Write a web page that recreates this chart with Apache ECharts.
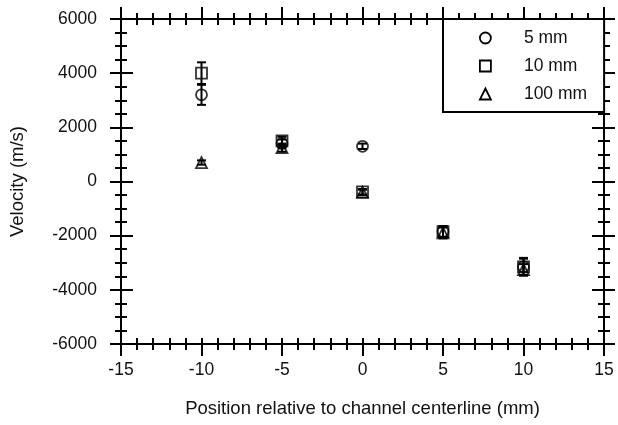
<!DOCTYPE html>
<html>
<head>
<meta charset="utf-8">
<script src="https://cdn.jsdelivr.net/npm/echarts@6/dist/echarts.min.js"></script>
<style>
  html, body { margin: 0; padding: 0; background: #fff; }
  #chart { width: 618px; height: 425px; }
</style>
</head>
<body>
<div id="chart"></div>
<script>
// Velocity profiles across the channel, three channel widths
const positions = [-10, -5, 0, 5, 10];

const seriesNames = ['5 mm', '10 mm', '100 mm'];
const seriesSymbols = ['circle', 'rect', 'triangle'];

const vel5mm   = [3200, 1400, 1300, -1850, -3150];
const err5mm   = [370, 150, 100, 200, 300];
const vel10mm  = [4000, 1500, -380, -1850, -3150];
const err10mm  = [400, 150, 100, 200, 330];
const vel100mm = [700, 1250, -400, -1900, -3250];
const err100mm = [80, 150, 100, 200, 200];

const xTicks = { min: -15, max: 15, interval: 5 };
const yTicks = { min: -6000, max: 6000, interval: 2000 };

const FONT = 'Liberation Sans';
const FONT_SIZE = 17.5;
const NAME_SIZE = 18.5;
const BLACK = '#000';

const values = [vel5mm, vel10mm, vel100mm];
const errors = [err5mm, err10mm, err100mm];

const plainNumber = v => String(v);

// Four stacked copies of each axis so ticks cross the frame lines
function xAxisDef(position, inside, withLabels) {
  return {
    type: 'value', position: position,
    min: xTicks.min, max: xTicks.max, interval: xTicks.interval,
    axisLine: { show: true, onZero: false, lineStyle: { color: BLACK, width: 2 } },
    axisTick: { show: true, inside: inside, length: inside ? 6 : 12, lineStyle: { color: BLACK, width: 2 } },
    minorTick: { show: true, splitNumber: 5, length: 6, lineStyle: { color: BLACK, width: 2 } },
    axisLabel: withLabels ? { show: true, margin: 17, color: '#111', fontFamily: FONT, fontSize: FONT_SIZE, formatter: plainNumber } : { show: false },
    splitLine: { show: false },
    name: withLabels ? 'Position relative to channel centerline (mm)' : '',
    nameLocation: 'middle', nameGap: 55,
    nameTextStyle: { color: '#111', fontFamily: FONT, fontSize: NAME_SIZE }
  };
}
function yAxisDef(position, inside, withLabels) {
  return {
    type: 'value', position: position,
    min: yTicks.min, max: yTicks.max, interval: yTicks.interval,
    axisLine: { show: true, onZero: false, lineStyle: { color: BLACK, width: 2 } },
    axisTick: { show: true, inside: inside, length: inside ? 12 : 11, lineStyle: { color: BLACK, width: 2 } },
    minorTick: { show: true, splitNumber: 4, length: 6, lineStyle: { color: BLACK, width: 2 } },
    axisLabel: withLabels ? { show: true, margin: 24, color: '#111', fontFamily: FONT, fontSize: FONT_SIZE, formatter: plainNumber } : { show: false },
    splitLine: { show: false },
    name: withLabels ? 'Velocity (m/s)' : '',
    nameLocation: 'middle', nameGap: 94, nameRotate: 90,
    nameTextStyle: { color: '#111', fontFamily: FONT, fontSize: NAME_SIZE }
  };
}

function errorBarSeries(idx) {
  const data = positions.map((x, i) => [x, values[idx][i] - errors[idx][i], values[idx][i] + errors[idx][i]]);
  return {
    type: 'custom',
    name: seriesNames[idx],
    xAxisIndex: 0, yAxisIndex: 0,
    data: data,
    z: 3,
    silent: true,
    renderItem: function (params, api) {
      const lo = api.coord([api.value(0), api.value(1)]);
      const hi = api.coord([api.value(0), api.value(2)]);
      const half = 4.5;
      const style = { stroke: BLACK, lineWidth: 2, fill: null };
      return {
        type: 'group',
        children: [
          { type: 'line', shape: { x1: hi[0], y1: hi[1], x2: lo[0], y2: lo[1] }, style: style },
          { type: 'line', shape: { x1: hi[0] - half, y1: hi[1], x2: hi[0] + half, y2: hi[1] }, style: style },
          { type: 'line', shape: { x1: lo[0] - half, y1: lo[1], x2: lo[0] + half, y2: lo[1] }, style: style }
        ]
      };
    }
  };
}

function pointSeries(idx) {
  return {
    type: 'scatter',
    name: seriesNames[idx],
    xAxisIndex: 0, yAxisIndex: 0,
    symbol: seriesSymbols[idx],
    symbolSize: 11,
    itemStyle: { color: 'rgba(255,255,255,0)', borderColor: BLACK, borderWidth: 1.8 },
    data: positions.map((x, i) => [x, values[idx][i]]),
    z: 4
  };
}

const chart = echarts.init(document.getElementById('chart'), null, { renderer: 'canvas' });
chart.setOption({
  animation: false,
  backgroundColor: '#fff',
  grid: { left: 119, right: 14, top: 19, bottom: 81, containLabel: false },
  xAxis: [
    xAxisDef('bottom', false, true),
    xAxisDef('bottom', true, false),
    xAxisDef('top', false, false),
    xAxisDef('top', true, false)
  ],
  yAxis: [
    yAxisDef('left', false, true),
    yAxisDef('left', true, false),
    yAxisDef('right', false, false),
    yAxisDef('right', true, false)
  ],
  legend: {
    data: seriesNames.map((n, i) => ({ name: n, icon: seriesSymbols[i] })),
    orient: 'vertical',
    left: 443, top: 19,
    padding: [10, 17, 9, 36],
    itemWidth: 11, itemHeight: 11,
    itemGap: 10,
    backgroundColor: '#fff',
    borderColor: BLACK, borderWidth: 2,
    borderRadius: 0,
    selectedMode: false,
    itemStyle: { color: 'rgba(255,255,255,0)', borderColor: BLACK, borderWidth: 1.8 },
    textStyle: { color: '#111', fontFamily: FONT, fontSize: FONT_SIZE, padding: [0, 0, 0, 28] },
    z: 10
  },
  series: [
    errorBarSeries(0), errorBarSeries(1), errorBarSeries(2),
    pointSeries(0), pointSeries(1), pointSeries(2)
  ]
});
</script>
</body>
</html>
